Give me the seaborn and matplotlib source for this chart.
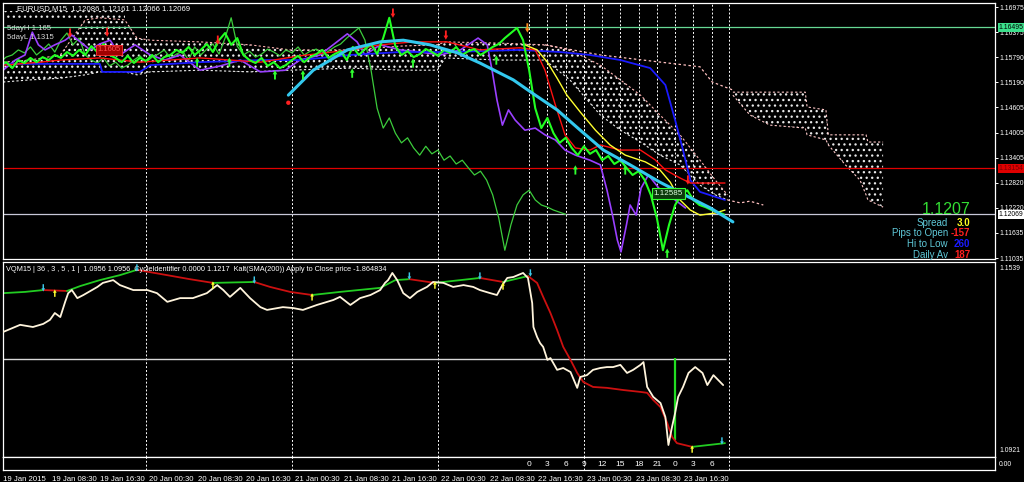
import numpy as np
import matplotlib
matplotlib.use("Agg")
import matplotlib.pyplot as plt
import seaborn as sns
from matplotlib.path import Path
from matplotlib.markers import MarkerStyle
import matplotlib.transforms as mtransforms

# ---------------- data (x = hours since 19 Jan 2015 00:00) ----------------
PRICE_CLOSE = [1.1560,1.1567,1.1553,1.1572,1.1565,1.1577,1.1567,1.1579,1.1572,1.1584,
               1.1577,1.1591,1.1582,1.1596,1.1584,1.1605,1.1591,1.1610,1.1584,1.1577,
               1.1567,1.1582,1.1565,1.1577,1.1570,1.1584,1.1567,1.1579,1.1584,1.1596,
               1.1589,1.1603,1.1584,1.1596,1.1610,1.1591,1.1619,1.1636,1.1608,1.1624,
               1.1584,1.1572,1.1565,1.1577,1.1558,1.1567,1.1553,1.1560,1.1572,1.1582,
               1.1567,1.1579,1.1586,1.1596,1.1577,1.1586,1.1593,1.1572,1.1603,1.1584,
               1.1598,1.1610,1.1586,1.1624,1.1672,1.1605,1.1584,1.1593,1.1579,1.1586,
               1.1598,1.1591,1.1582,1.1596,1.1589,1.1603,1.1584,1.1593,1.1598,1.1584,
               1.1593,1.1603,1.1610,1.1624,1.1636,1.1648,1.1619,1.1548,1.1458,1.1411,
               1.1435,1.1399,1.1376,1.1388,1.1364,1.1347,1.1368,1.1350,1.1359,1.1335,
               1.1345,1.1326,1.1335,1.1317,1.1300,1.1309,1.1288,1.1253,1.1198,1.1122,
               1.1182,1.1229,1.1253,1.1264,1.1241,1.1229,1.1224,1.1217,1.1212,1.1207]
PRICE_HOURS = list(range(len(PRICE_CLOSE)))
LAG_SHIFT_H = 26

PURPLE_H = [0.5,2.5,4.1,5.3,6.3,7.4,9.0,10.7,11.8,13.2,14.8,16.4,18.1,19.7,22.2,24.7,27.1,29.6,32.9,36.2,
            39.5,42.8,46.9,49.3,52.6,57.1,58.7,60.0,62.5,65.8,69.1,72.4,75.7,78.6,80.1,80.9,81.7,82.6,83.6,84.7,
            86.3,88.0,89.6,91.3,92.9,94.6,97.0,98.7,99.8,100.7,101.5,102.1,103.0,103.6,104.6,105.4,106.6,108.6,111.0,112.7]
PURPLE_P = [1.1548,1.1572,1.1584,1.1638,1.1608,1.1596,1.1608,1.1619,1.1631,1.1615,1.1596,1.1610,1.1619,1.1584,1.1608,1.1584,1.1572,1.1584,1.1548,1.1558,
            1.1572,1.1544,1.1548,1.1572,1.1584,1.1634,1.1615,1.1584,1.1608,1.1596,1.1591,1.1584,1.1596,1.1624,1.1608,1.1548,1.1478,1.1418,1.1454,1.1430,
            1.1406,1.1411,1.1395,1.1383,1.1359,1.1347,1.1335,1.1324,1.1264,1.1205,1.1146,1.1118,1.1182,1.1229,1.1205,1.1269,1.1300,1.1264,1.1241,1.1222]

CYAN_H = [47.4,51.5,57.1,62.5,66.3,70.7,75.2,78.9,84.4,88.0,91.6,95.4,99.2,103.6,108.5,113.5,116.8,120.5]
CYAN_P = [1.1489,1.1548,1.1596,1.1615,1.1619,1.1608,1.1589,1.1565,1.1525,1.1489,1.1454,1.1406,1.1359,1.1324,1.1283,1.1246,1.1222,1.1189]

YELLOW_H = [86.3,88.3,90.0,91.6,93.2,95.4,97.9,100.3,102.8,106.1,108.5,110.2,111.8,113.5,115.1,117.6,119.2]
YELLOW_P = [1.1608,1.1596,1.1567,1.1529,1.1489,1.1449,1.1406,1.1371,1.1347,1.1331,1.1312,1.1283,1.1241,1.1217,1.1205,1.1210,1.1217]

RED_H = [0.5,6.6,9.9,16.4,23.0,32.9,42.8,49.3,57.6,62.5,67.9,73.5,78.9,85.5,88.0,89.6,91.3,92.9,94.6,97.0,
         98.7,102.0,105.3,107.7,109.4,111.8,113.5,119.2]
RED_P = [1.1560,1.1567,1.1572,1.1577,1.1567,1.1577,1.1567,1.1582,1.1596,1.1608,1.1615,1.1615,1.1596,1.1601,1.1596,1.1548,1.1466,1.1395,1.1364,1.1359,
         1.1371,1.1359,1.1359,1.1336,1.1312,1.1293,1.1281,1.1281]

BLUE_H = [0.5,16.4,16.8,23.0,24.7,32.9,42.8,49.3,57.6,65.8,74.0,85.5,92.1,97.0,102.0,106.9,109.4,111.0,112.3,113.5,115.1,119.2]
BLUE_P = [1.1563,1.1563,1.1544,1.1544,1.1560,1.1567,1.1572,1.1572,1.1584,1.1591,1.1591,1.1596,1.1591,1.1584,1.1572,1.1553,1.1513,1.1430,1.1359,1.1288,1.1260,1.1241]

CLOUD_H = [0.5,4.9,9.9,14.0,16.4,20.5,22.5,24.7,32.9,41.1,47.7,57.6,65.8,71.9,73.2,82.2,89.6,93.7,98.7,102.0,
           105.3,108.5,111.8,115.1,117.6,119.6]
CLOUD_TOP = [1.1567,1.1572,1.1584,1.1667,1.1672,1.1667,1.1624,1.1619,1.1615,1.1608,1.1596,1.1596,1.1605,1.1608,1.1615,1.1612,1.1608,1.1596,1.1560,1.1525,
             1.1489,1.1442,1.1395,1.1335,1.1288,1.1253]
CLOUD_BOT = [1.1520,1.1525,1.1529,1.1537,1.1544,1.1544,1.1537,1.1544,1.1548,1.1544,1.1548,1.1553,1.1548,1.1548,1.1577,1.1572,1.1572,1.1525,1.1442,1.1406,
             1.1378,1.1347,1.1324,1.1276,1.1253,1.1241]
TOPBAND_H = [0.5, 20.5]
TOPBAND_TOP = [1.1688, 1.1688]
TOPBAND_BOT = [1.1664, 1.1664]

FUTURE_H = [120.5,123.3,126.6,132.4,132.7,135.8,136.2,139.0,141.4,142.4,142.7,145.2]
FUTURE_TOP = [1.1496,1.1496,1.1496,1.1496,1.1461,1.1454,1.1395,1.1395,1.1395,1.1395,1.1378,1.1378]
FUTURE_BOT = [1.1489,1.1442,1.1418,1.1411,1.1395,1.1383,1.1371,1.1324,1.1288,1.1253,1.1241,1.1224]
SPAN_LINE_H = [89.6,98.7,106.9,115.1,117.1,120.5]
SPAN_LINE_P = [1.1608,1.1584,1.1570,1.1556,1.1520,1.1501]
EXT_LINE_H = [119.6,121.7,123.3,125.5]
EXT_LINE_P = [1.1241,1.1234,1.1238,1.1229]

MAIN_DN_H = [11.5,17.6,35.8,64.6,73.3,113.1]
MAIN_DN_P = [1.1636,1.1638,1.1619,1.1683,1.1631,1.1288]
ORANGE_DN_H = [86.7]
ORANGE_DN_P = [1.1648]
MAIN_UP_H = [32.4,37.7,45.2,49.8,57.9,67.9,81.6,94.6,102.8,109.7]
MAIN_UP_P = [1.1567,1.1567,1.1537,1.1537,1.1541,1.1565,1.1572,1.1312,1.1312,1.1115]
RED_DOT_H = [47.4]
RED_DOT_P = [1.1471]

LEVEL_VALUES = [1.16495, 1.13154, 1.12069]
LEVEL_COLORS = ['#66d894', '#e00000', '#c8c8d8']
TAG_FACE = ['#3ce08c', '#e00000', '#ffffff']
TAG_TEXT = ['#000000', '#7a0000', '#000000']
MAIN_TICKS = [1.16975,1.16375,1.15790,1.15190,1.14605,1.14005,1.13405,1.12820,1.12220,1.11635,1.11035]

VQ_H = [0.5,3.3,5.4,7.1,8.2,9.0,9.9,10.7,11.2,11.8,
        12.7,13.7,16.0,16.9,18.6,19.7,21.9,24.2,25.8,27.5,
        29.6,31.7,34.0,35.7,36.7,37.8,39.5,41.1,42.8,43.9,
        46.5,48.2,49.8,52.1,54.8,55.9,57.6,59.2,60.9,62.5,
        63.3,63.8,64.5,65.3,66.3,67.4,68.6,70.2,71.2,72.9,
        74.5,76.2,77.8,78.9,80.6,81.7,82.6,83.4,84.4,86.0,
        86.8,87.5,87.7,88.3,88.8,89.3,90.0,90.5,91.6,92.6,
        93.8,94.9,95.4,96.5,97.5,98.7,99.8,100.8,102.0,103.1,
        104.1,105.3,105.8,106.4,107.4,108.6,109.4,109.9,110.5,111.0,
        111.5,112.3,113.2,114.3,115.5,116.3,117.3,118.1,118.9]
VQ_V = [1.1317,1.1340,1.1333,1.1343,1.1356,1.1378,1.1365,1.1414,1.1442,1.1452,
        1.1426,1.1436,1.1462,1.1475,1.1484,1.1468,1.1452,1.1452,1.1442,1.1414,
        1.1426,1.1426,1.1442,1.1468,1.1452,1.1430,1.1459,1.1426,1.1397,1.1388,
        1.1397,1.1394,1.1388,1.1404,1.1420,1.1430,1.1404,1.1426,1.1436,1.1452,
        1.1475,1.1484,1.1507,1.1484,1.1442,1.1426,1.1446,1.1462,1.1478,1.1475,
        1.1462,1.1468,1.1462,1.1452,1.1442,1.1436,1.1468,1.1491,1.1494,1.1507,
        1.1491,1.1410,1.1333,1.1301,1.1281,1.1269,1.1227,1.1233,1.1195,1.1201,
        1.1188,1.1137,1.1172,1.1178,1.1195,1.1201,1.1204,1.1204,1.1211,1.1185,
        1.1195,1.1211,1.1220,1.1140,1.1108,1.1088,1.1043,1.0953,1.1012,1.1056,
        1.1108,1.1140,1.1185,1.1204,1.1185,1.1146,1.1178,1.1162,1.1146]

KALMAN_H = [0.5,4.1,7.1,11.0,13.2,16.4,19.7,22.5,26.3,31.2,35.0,41.8,44.4,47.7,51.3,55.9,62.5,65.0,67.3,71.5,
            75.7,78.9,82.7,86.8,88.3,89.3,90.5,91.6,92.6,93.8,94.9,95.9,97.5,99.8,102.5,105.3,106.4,107.4,108.6,109.7,
            110.5,111.3,113.8,119.2]
KALMAN_V = [1.1442,1.1446,1.1452,1.1449,1.1465,1.1484,1.1500,1.1517,1.1504,1.1487,1.1475,1.1478,1.1462,1.1446,1.1436,1.1446,1.1459,1.1484,1.1487,1.1475,
            1.1484,1.1491,1.1478,1.1497,1.1475,1.1430,1.1378,1.1323,1.1269,1.1227,1.1185,1.1156,1.1140,1.1137,1.1130,1.1124,1.1121,1.1098,1.1075,1.1024,
            1.0979,1.0959,1.0947,1.0959]
KALMAN_DIR = ['U','U','D','U','U','U','U','D','D','D','U','D','D','D','U','U','U','U','D','U',
              'U','D','U','D','D','D','D','D','D','D','D','D','D','D','D','D','D','D','D','D',
              'D','D','U','U']
CYAN_ARROW_H = [7.1,22.5,41.8,67.3,78.9,87.2,118.7]
CYAN_ARROW_V = [1.1459,1.1523,1.1484,1.1497,1.1497,1.1507,1.0966]
YELLOW_ARROW_H = [9.0,35.0,51.3,71.5,82.7,113.8]
YELLOW_ARROW_V = [1.1442,1.1468,1.1430,1.1468,1.1465,1.0940]
SUB_LEVEL = 1.1230
SUB_LEVEL_END_H = 119.4
SIGNAL_H = 111.0
SIGNAL_RANGE = (1.0969, 1.1234)

DAY_SEP_H = [24, 48, 72, 96]
CYCLE_H = [87, 90, 93, 96, 99, 102, 105, 108, 111, 114, 117]
CYCLE_LABELS = ["0", "3", "6", "9", "12", "15", "18", "21", "0", "3", "6"]
SESSION_END_H = 119.8
TIME_TICK_H = [0.5, 8.5, 16.5, 24.5, 32.5, 40.5, 48.5, 56.5, 64.5, 72.5, 80.5, 88.5, 96.5, 104.5, 112.5]
TIME_TICK_LABELS = ["19 Jan 2015", "19 Jan 08:30", "19 Jan 16:30", "20 Jan 00:30", "20 Jan 08:30",
                    "20 Jan 16:30", "21 Jan 00:30", "21 Jan 08:30", "21 Jan 16:30", "22 Jan 00:30",
                    "22 Jan 08:30", "22 Jan 16:30", "23 Jan 00:30", "23 Jan 08:30", "23 Jan 16:30"]

# ---------------- style ----------------
sns.set_theme(style="dark", rc={"axes.facecolor": "black", "figure.facecolor": "black"})
plt.rcParams['font.family'] = ['Liberation Sans', 'DejaVu Sans']
plt.rcParams['hatch.linewidth'] = 0.9

W, H = 1024, 482
fig = plt.figure(figsize=(W / 100, H / 100), dpi=100, facecolor='black')


def panel(x0, y0, x1, y1):
    ax = fig.add_axes([x0 / W, 1 - y1 / H, (x1 - x0) / W, (y1 - y0) / H])
    ax.set_facecolor('black')
    for s in ax.spines.values():
        s.set_color('white')
        s.set_linewidth(0.9)
    ax.grid(False)
    return ax


X_LIM = (0.48, 163.6)
main = panel(3, 3, 995, 259)
lower = panel(3, 262, 995, 457)
tiny = panel(3, 457, 995, 470)
for ax in (main, lower, tiny):
    ax.set_xlim(*X_LIM)
main.set_ylim(1.11012, 1.17070)
lower.set_ylim(1.09144, 1.15423)
tiny.set_ylim(0, 1)

DASH = (0, (2, 2))
FS = 5.6
FS_AX = 4.9

# arrow markers
up_path = Path([(-0.5, 0.1), (0, 1), (0.5, 0.1), (0.2, 0.1), (0.2, -1), (-0.2, -1), (-0.2, 0.1), (-0.5, 0.1)], closed=True)
dn_path = Path([(x, -y) for x, y in up_path.vertices], closed=True)
UP = MarkerStyle(up_path)
DN = MarkerStyle(dn_path)


def line(ax, x, y, color, lw, z, ls='-'):
    sns.lineplot(x=x, y=y, ax=ax, color=color, lw=lw, zorder=z, sort=False, estimator=None, linestyle=ls)


# ---------------- main panel ----------------
for h in DAY_SEP_H + CYCLE_H + [SESSION_END_H]:
    main.axvline(h, color='white', lw=0.7, ls=DASH, zorder=0.5)

for hx, lo, hi in ((CLOUD_H, CLOUD_BOT, CLOUD_TOP), (TOPBAND_H, TOPBAND_BOT, TOPBAND_TOP), (FUTURE_H, FUTURE_BOT, FUTURE_TOP)):
    main.fill_between(hx, lo, hi, facecolor='none', edgecolor='#e8e8e8', hatch='...', linewidth=0, zorder=1)
line(main, CLOUD_H, CLOUD_TOP, '#ffb4b4', 0.8, 1.1, DASH)
line(main, CLOUD_H, CLOUD_BOT, '#f0f0f0', 0.8, 1.1, DASH)
line(main, FUTURE_H, FUTURE_TOP, '#ffc8c8', 0.8, 1.1, DASH)
line(main, FUTURE_H, FUTURE_BOT, '#ffc8c8', 0.8, 1.1, DASH)
line(main, SPAN_LINE_H, SPAN_LINE_P, '#ffc0c0', 0.9, 1.1, DASH)
line(main, EXT_LINE_H, EXT_LINE_P, '#ffc0c0', 0.9, 1.1, DASH)

for lv, lc in zip(LEVEL_VALUES, LEVEL_COLORS):
    main.axhline(lv, color=lc, lw=0.9, zorder=1.5)

line(main, np.array(PRICE_HOURS) - LAG_SHIFT_H, PRICE_CLOSE, '#3ccc3c', 0.9, 2)
line(main, PURPLE_H, PURPLE_P, '#9a40ff', 1.2, 2.1)
line(main, BLUE_H, BLUE_P, '#1a1aff', 1.3, 2.2)
line(main, RED_H, RED_P, '#ff1010', 1.0, 2.3)
line(main, YELLOW_H, YELLOW_P, '#ffff30', 1.0, 2.4)
line(main, PRICE_HOURS, PRICE_CLOSE, '#22ff22', 1.5, 2.5)
line(main, CYAN_H, CYAN_P, '#33c8ee', 2.2, 2.6)

sns.scatterplot(x=MAIN_DN_H, y=MAIN_DN_P, ax=main, marker=DN, s=45, color='#ff2020', edgecolor='none', zorder=4)
sns.scatterplot(x=ORANGE_DN_H, y=ORANGE_DN_P, ax=main, marker=DN, s=45, color='#ff8c1a', edgecolor='none', zorder=4)
sns.scatterplot(x=MAIN_UP_H, y=MAIN_UP_P, ax=main, marker=UP, s=45, color='#30ff30', edgecolor='none', zorder=4)
sns.scatterplot(x=RED_DOT_H, y=RED_DOT_P, ax=main, s=10, color='#ff2020', edgecolor='none', zorder=4)

main.text(17.9, 1.1596, "1.1605", fontsize=5.5, color='#ff5050', ha='center', va='center', zorder=5,
          bbox=dict(boxstyle='square,pad=0.15', fc='#a00000', ec='#ff3030', lw=0.6))
main.text(109.9, 1.1257, "1.12585", fontsize=5.8, color='#e0ffe0', ha='center', va='center', zorder=5,
          bbox=dict(boxstyle='square,pad=0.25', fc='#0b3a0b', ec='#33ff33', lw=0.8))

main.yaxis.tick_right()
main.set_yticks(MAIN_TICKS)
main.set_yticklabels([f"{v:.5f}" for v in MAIN_TICKS])
main.tick_params(axis='y', colors='white', labelsize=FS_AX, length=2.5, width=0.7, pad=0.8, direction='out')
main.set_xticks([])
main.set_xlabel('')
main.set_ylabel('')

tr = mtransforms.blended_transform_factory(main.transAxes, main.transData)
for lv, fc, tc in zip(LEVEL_VALUES, TAG_FACE, TAG_TEXT):
    main.text(1.0035, lv, f"{lv:.5f}", transform=tr, fontsize=FS_AX, color=tc, ha='left', va='center',
              clip_on=False, zorder=10, bbox=dict(boxstyle='square,pad=0.12', fc=fc, ec='none'))

main.text(0.0141, 0.980, "EURUSD,M15  1.12086 1.12161 1.12066 1.12069", transform=main.transAxes,
          fontsize=FS, color='white', ha='left', va='center')
main.text(0.004, 0.902, "5dayH 1.165", transform=main.transAxes, fontsize=FS, color='#d8d8d8', ha='left', va='center')
main.text(0.004, 0.867, "5dayL 1.1315", transform=main.transAxes, fontsize=FS, color='#d8d8d8', ha='left', va='center')

main.text(0.9758, 0.1953, "1.1207", transform=main.transAxes, fontsize=11.5, color='#33dd33', ha='right', va='center')
INFO_LABELS = ["Spread", "Pips to Open", "Hi to Low", "Daily Av"]
INFO_VALUES = ["3.0", "-157", "260", "187"]
INFO_COLORS = ['#ffff20', '#ff2020', '#1a1aff', '#ff2020']
INFO_Y = [0.1406, 0.1016, 0.0586, 0.0137]
for lab, val, col, yy in zip(INFO_LABELS, INFO_VALUES, INFO_COLORS, INFO_Y):
    main.text(0.9526, yy, lab, transform=main.transAxes, fontsize=7, color='#5fc8d8', ha='right', va='center')
    main.text(0.9748, yy, val, transform=main.transAxes, fontsize=7, color=col, ha='right', va='center', fontweight='bold')

# ---------------- lower panel ----------------
for h in DAY_SEP_H + [SESSION_END_H]:
    lower.axvline(h, color='white', lw=0.7, ls=DASH, zorder=0.5)
lower.hlines(SUB_LEVEL, X_LIM[0], SUB_LEVEL_END_H, color='#d8d8d8', lw=1.0, zorder=1)
lower.vlines(SIGNAL_H, SIGNAL_RANGE[0], SIGNAL_RANGE[1], color='#22dd22', lw=1.6, zorder=2)

start = 0
for i in range(1, len(KALMAN_H)):
    if i == len(KALMAN_H) - 1 or KALMAN_DIR[i] != KALMAN_DIR[start]:
        col = '#22cc22' if KALMAN_DIR[start] == 'U' else '#cc1010'
        line(lower, KALMAN_H[start:i + 1], KALMAN_V[start:i + 1], col, 1.3, 2)
        start = i
line(lower, VQ_H, VQ_V, '#fff4dc', 1.3, 3)

sns.scatterplot(x=CYAN_ARROW_H, y=CYAN_ARROW_V, ax=lower, marker=DN, s=28, color='#3cc8e8', edgecolor='none', zorder=4)
sns.scatterplot(x=YELLOW_ARROW_H, y=YELLOW_ARROW_V, ax=lower, marker=UP, s=28, color='#ffff30', edgecolor='none', zorder=4)

lower.set_xticks([])
lower.set_yticks([])
lower.set_xlabel('')
lower.set_ylabel('')
lower.text(0.003, 0.959, "VQM15 | 36 , 3 , 5 , 1 |  1.0956 1.0956  CycleIdentifier 0.0000 1.1217  Kalt(SMA(200)) Apply to Close price -1.864834",
           transform=lower.transAxes, fontsize=5.3, color='white', ha='left', va='center')
lower.text(1.004, 0.969, "1.1539", transform=lower.transAxes, fontsize=FS_AX, color='white', ha='left', va='center', clip_on=False)
lower.text(1.004, 0.031, "1.0921", transform=lower.transAxes, fontsize=FS_AX, color='white', ha='left', va='center', clip_on=False)

# ---------------- tiny panel / time axis ----------------
for h in DAY_SEP_H + [SESSION_END_H]:
    tiny.axvline(h, color='white', lw=0.7, ls=DASH, zorder=0.5)
for h, lab in zip(CYCLE_H, CYCLE_LABELS):
    tiny.text(h, 0.45, lab, fontsize=6, color='white', ha='center', va='center')
tiny.text(1.004, 0.45, "0.00", transform=tiny.transAxes, fontsize=FS_AX, color='white', ha='left', va='center', clip_on=False)
tiny.set_yticks([])
tiny.set_xticks(TIME_TICK_H)
tiny.set_xticklabels(TIME_TICK_LABELS)
tiny.tick_params(axis='x', colors='white', labelsize=FS, length=3.5, width=0.7, pad=0.5, direction='out')
for lbl in tiny.get_xticklabels():
    lbl.set_ha('left')
tiny.set_xlabel('')
tiny.set_ylabel('')

fig.savefig("out.png", dpi=100, facecolor='black')
